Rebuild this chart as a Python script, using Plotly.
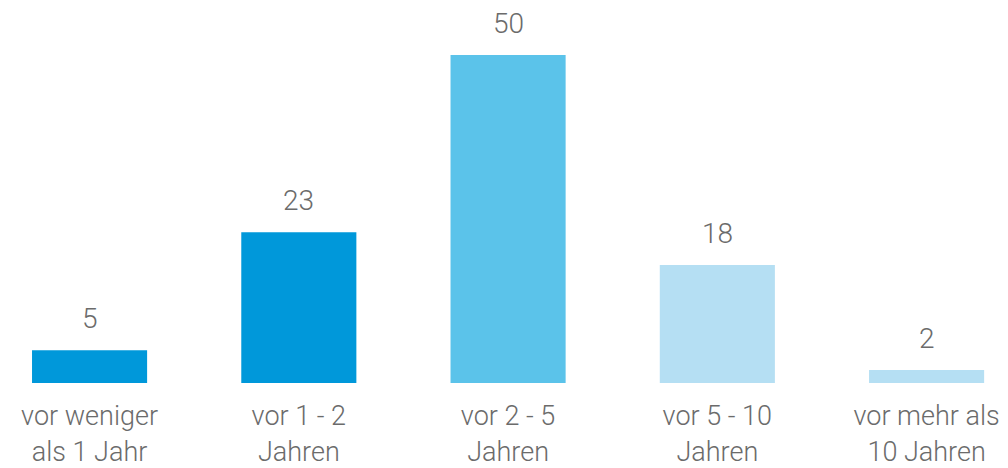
import plotly.graph_objects as go

categories = ["vor weniger<br>als 1 Jahr", "vor 1 - 2<br>Jahren", "vor 2 - 5<br>Jahren",
              "vor 5 - 10<br>Jahren", "vor mehr als<br>10 Jahren"]
values = [5, 23, 50, 18, 2]
colors = ["#0098DA", "#0098DA", "#5BC3EA", "#B5DFF3", "#B5DFF3"]

FONT = dict(family="Roboto", size=28, color="#6b6b6b", weight=300)
TICKFONT = dict(family="Roboto", size=27, color="#6b6b6b", weight=300)

fig = go.Figure(go.Bar(
    x=list(range(len(categories))), y=values,
    marker=dict(color=colors, line=dict(width=0)),
    width=0.55, hoverinfo="skip",
))

for i, v in enumerate(values):
    fig.add_annotation(x=i, y=v, text=str(v), showarrow=False,
                       yanchor="bottom", yshift=13, font=FONT)

fig.update_layout(
    width=1008, height=468,
    margin=dict(l=0, r=0, t=0, b=85),
    paper_bgcolor="white", plot_bgcolor="white",
    showlegend=False,
    xaxis=dict(range=[-0.428, 4.389], tickmode="array",
               tickvals=list(range(len(categories))), ticktext=categories,
               showgrid=False, zeroline=False, showline=False,
               ticks="outside", ticklen=9, tickcolor="rgba(0,0,0,0)",
               tickfont=TICKFONT, automargin=False),
    yaxis=dict(range=[0, 58.4], visible=False, showgrid=False, zeroline=False,
               automargin=False),
)

fig.write_html("out.html", config={"displayModeBar": False},
               post_script="document.body.style.margin='0';document.body.style.overflow='hidden';")
